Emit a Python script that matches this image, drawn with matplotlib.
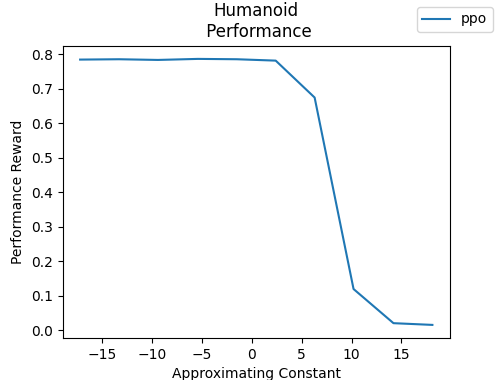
import matplotlib
matplotlib.use('Agg')
import matplotlib.pyplot as plt

constants = [-17.2, -13.3, -9.4, -5.4, -1.5, 2.4, 6.3, 10.2, 14.2, 18.1]
ppo_reward = [0.785, 0.786, 0.784, 0.787, 0.786, 0.782, 0.675, 0.12, 0.021, 0.016]

fig = plt.figure(figsize=(5, 3.8), dpi=100)
ax = fig.add_subplot(111)
ax.plot(constants, ppo_reward, label='ppo')
ax.set_title('Humanoid\n Performance')
ax.set_xlabel('Approximating Constant')
ax.set_ylabel('Performance Reward')
fig.legend()
fig.savefig('out.png')
